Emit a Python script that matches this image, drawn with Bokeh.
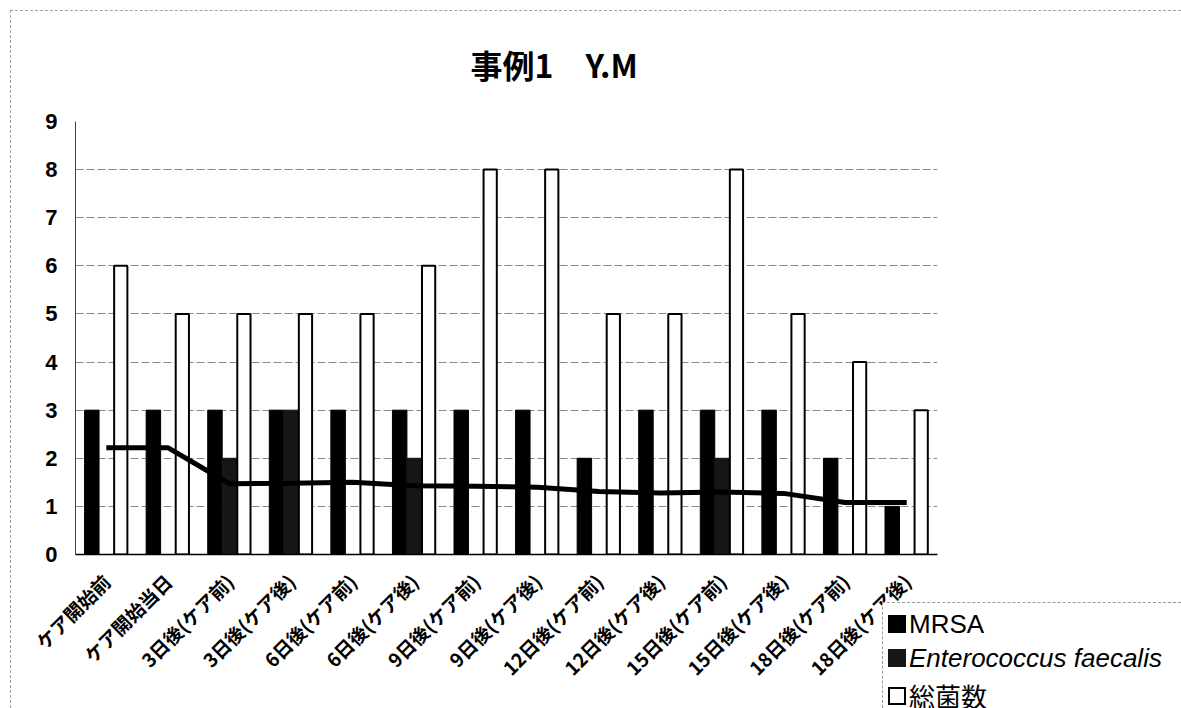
from math import pi
from bokeh.plotting import figure
from bokeh.layouts import column
from bokeh.models import FactorRange, Range1d, FixedTicker, Div
from bokeh.transform import dodge
from bokeh.embed import file_html
from bokeh.resources import INLINE

categories = ["ケア開始前", "ケア開始当日", "3日後(ケア前)", "3日後(ケア後)",
              "6日後(ケア前)", "6日後(ケア後)", "9日後(ケア前)", "9日後(ケア後)",
              "12日後(ケア前)", "12日後(ケア後)", "15日後(ケア前)", "15日後(ケア後)",
              "18日後(ケア前)", "18日後(ケア後)"]
mrsa = [3, 3, 3, 3, 3, 3, 3, 3, 2, 3, 3, 3, 2, 1]
enterococcus = [0, 0, 2, 3, 0, 2, 0, 0, 0, 0, 2, 0, 0, 0]
total = [6, 5, 5, 5, 5, 6, 8, 8, 5, 5, 8, 5, 4, 3]
trend = [2.22, 2.22, 1.47, 1.48, 1.50, 1.43, 1.42, 1.40, 1.31, 1.28, 1.30, 1.27, 1.08, 1.08]
y_ticks = [0, 1, 2, 3, 4, 5, 6, 7, 8, 9]
title_text = "事例1　Y.M"
legend_labels = ["MRSA", "Enterococcus faecalis", "総菌数"]

W, H = 1181, 708
p = figure(x_range=FactorRange(*categories, range_padding=0.0),
           y_range=Range1d(0, 9),
           width=W, height=H,
           min_border_left=75, min_border_right=244,
           min_border_top=121, min_border_bottom=154,
           output_backend="svg", toolbar_location=None,
           background_fill_color="white", border_fill_color="white")
p.outline_line_color = None

# title
p.title.text = title_text
p.title.align = "left"
p.title.offset = 395
p.title.standoff = 66
p.title.vertical_align = "top"
p.title.text_font = "Noto Sans CJK JP"
p.title.text_font_style = "bold"
p.title.text_font_size = "32px"
p.title.text_color = "black"

data = dict(cat=categories, mrsa=mrsa, ent=enterococcus, tot=total, trend=trend)
bw = 0.235
p.vbar(x=dodge("cat", -0.235, range=p.x_range), top="mrsa", width=bw, source=data,
       fill_color="black", line_color="black")
p.vbar(x=dodge("cat", 0.0, range=p.x_range), top="ent", width=bw, source=data,
       fill_color="#161616", line_color="#161616")
p.vbar(x=dodge("cat", 0.235, range=p.x_range), top="tot", width=bw - 0.02, source=data,
       fill_color="white", line_color="black", line_width=2)
p.line(x="cat", y="trend", source=data, line_color="black", line_width=5)

# axes
p.yaxis.ticker = FixedTicker(ticks=y_ticks)
p.yaxis.major_tick_line_color = None
p.yaxis.major_tick_out = 0
p.yaxis.major_tick_in = 0
p.yaxis.minor_tick_line_color = None
p.yaxis.major_label_standoff = 18
p.yaxis.major_label_text_font = "Liberation Sans"
p.yaxis.major_label_text_font_style = "bold"
p.yaxis.major_label_text_font_size = "22px"
p.yaxis.major_label_text_color = "black"
p.yaxis.axis_line_color = "#444444"
p.yaxis.axis_line_width = 1

p.xaxis.major_tick_line_color = None
p.xaxis.major_tick_out = 0
p.xaxis.major_tick_in = 0
p.xaxis.major_label_orientation = pi / 4
p.xaxis.major_label_standoff = 23
p.xaxis.major_label_text_font = "Noto Sans CJK JP"
p.xaxis.major_label_text_font_style = "bold"
p.xaxis.major_label_text_font_size = "19px"
p.xaxis.major_label_text_color = "black"
p.xaxis.axis_line_color = "black"
p.xaxis.axis_line_width = 1.5

p.xgrid.grid_line_color = None
p.ygrid.ticker = FixedTicker(ticks=[1, 2, 3, 4, 5, 6, 7, 8])
p.ygrid.grid_line_color = "#8a8a8a"
p.ygrid.grid_line_dash = "8 3"
p.ygrid.grid_line_width = 1

# outer chart-area border (top and left edges only are inside the picture)
BX, BY = 10, 10
BW, BH = W - BX, H - BY
border = Div(text=(f'<div style="width:{BW}px;height:{BH}px;box-sizing:border-box;'
                   'border-top:1px dashed #a0a0a0;border-left:1px dashed #a0a0a0;"></div>'),
             width=BW, height=BH, margin=(-BH, 0, 0, BX),
             styles={"position": "relative", "z-index": "5", "pointer-events": "none"})

# legend box overlaid on the bottom-right corner
LX, LY = 882, 602
LW, LH = W - LX, H - LY
swatches = ["background:black;", "background:#161616;", "background:white;border:2px solid black;box-sizing:border-box;"]
fonts = ["'Liberation Sans'", "'Liberation Sans'", "'Noto Sans CJK JP'"]
fstyles = ["normal", "italic", "normal"]
row_c = [21, 55, 93]
rows = ""
for lab, sw, fnt, fs, c in zip(legend_labels, swatches, fonts, fstyles, row_c):
    rows += (f'<div style="position:absolute;left:5px;top:{c - 9}px;width:18px;height:18px;{sw}"></div>'
             f'<div style="position:absolute;left:26px;top:{c - 16}px;height:32px;line-height:32px;'
             f'font-family:{fnt};font-size:26px;font-style:{fs};color:black;white-space:nowrap;">{lab}</div>')
legend_html = (f'<div style="position:relative;width:{LW}px;height:{LH}px;overflow:hidden;background:white;'
               'box-sizing:border-box;border-top:1px dashed #9a9a9a;border-left:1px dashed #9a9a9a;">'
               f'{rows}</div>')
legend = Div(text=legend_html, width=LW, height=LH, margin=(-LH, 0, 0, LX),
             styles={"position": "relative", "z-index": "10"})

layout = column(p, border, legend, spacing=0)
open("out.html", "w").write(file_html(layout, INLINE))
